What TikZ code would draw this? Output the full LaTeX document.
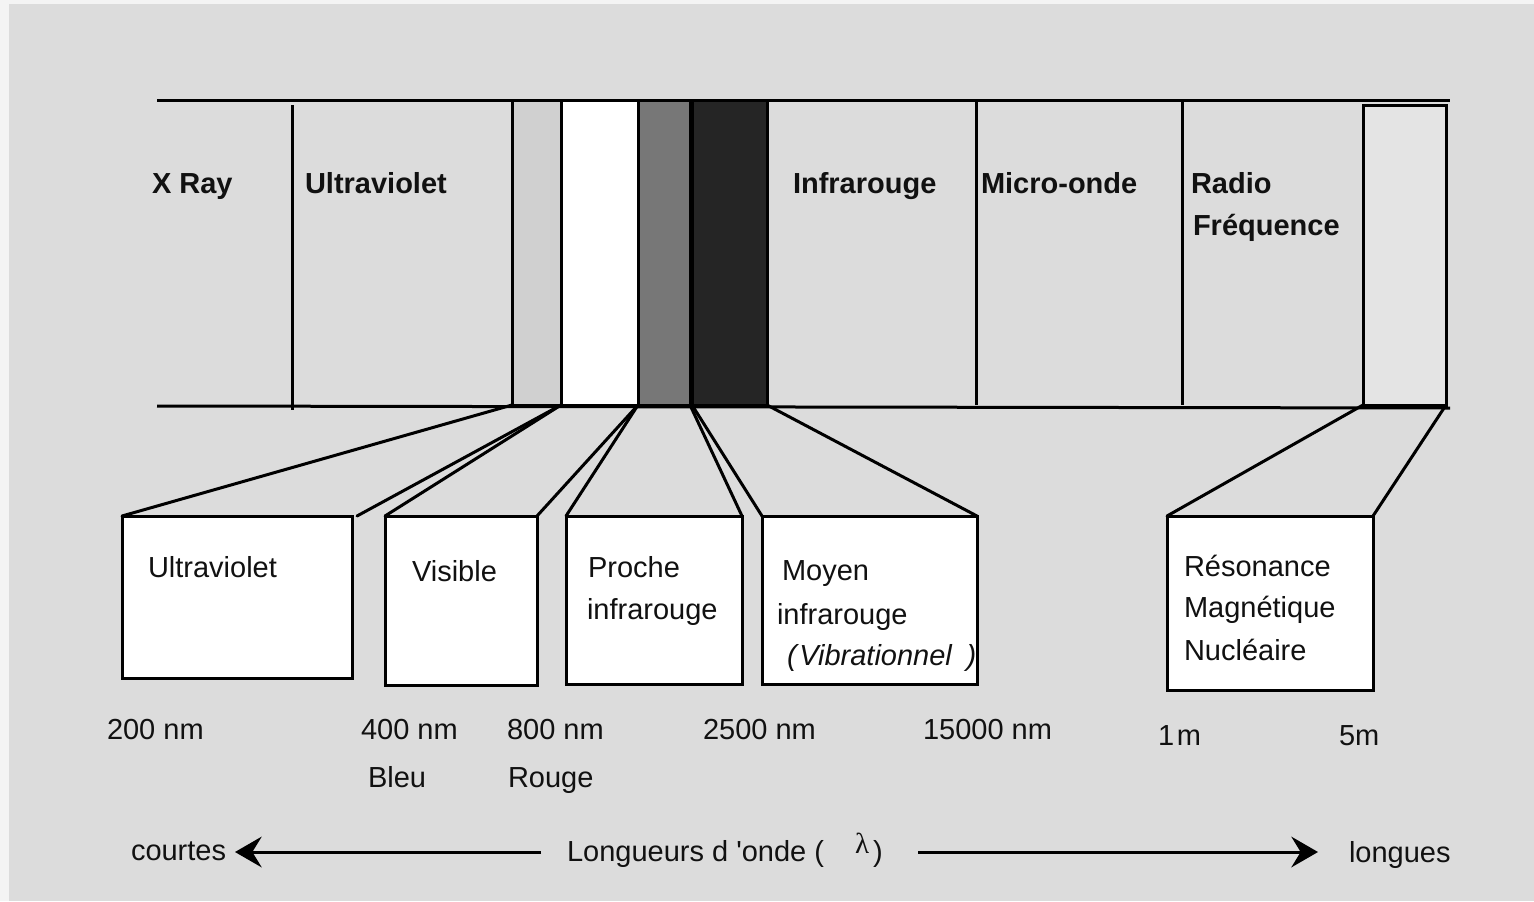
\documentclass[tikz,border=0pt]{standalone}
\usepackage{fontspec}
\setmainfont{Liberation Sans}
\newfontfamily\lamfont{Liberation Serif}
\newfontfamily\apfont[Ligatures=ResetAll]{Liberation Sans}
\usetikzlibrary{arrows.meta,fit}
\definecolor{outerbg}{HTML}{F4F4F4}
\definecolor{innerbg}{HTML}{DCDCDC}
\definecolor{barlight}{HTML}{D0D0D0}
\definecolor{barmid}{HTML}{777777}
\definecolor{bardark}{HTML}{252525}
\definecolor{barright}{HTML}{E4E4E4}
\definecolor{ink}{HTML}{111111}
\tikzset{
  lw/.style={line width=2.25pt},
  bar/.style={lw, draw=black, inner sep=0pt, outer sep=0pt},
  lowbox/.style={lw, draw=black, fill=white, inner sep=0pt, outer sep=0pt},
  conn/.style={lw, draw=black, line cap=round},
  txt/.style={inner sep=0pt, outer sep=0pt, anchor=base west, text=ink,
    font=\fontsize{21.75}{26}\selectfont},
  btxt/.style={txt, font=\fontsize{21.75}{26}\selectfont\bfseries},
  arr/.style={lw, draw=black, -{Stealth[length=20pt, width=23pt, inset=7pt]}}
}
\begin{document}
\begin{tikzpicture}[x=0.75pt, y=-0.75pt]
\useasboundingbox (0,0) rectangle (1534,901);
\fill[outerbg] (0,0) rectangle (1534,901);
\fill[innerbg] (9,4) rectangle (1534,901);

% band bars
\node[bar, fill=barlight, fit={(512,100) (561,405)}] (lb) {};
\node[bar, fill=white, fit={(561,100) (638,405)}] (wb) {};
\node[bar, fill=barmid, fit={(638,100) (690,405)}] (gb) {};
\node[bar, fill=bardark, fit={(692,100) (767,405)}] (db) {};
\node[bar, fill=barright, fit={(1363,105) (1446,405)}] (rb) {};

% band frame
\draw[lw] (157,100) -- (1450,100);
\draw[lw] (157,406) -- (1450,408);
\draw[lw] (292,105) -- (292,410);
\draw[lw] (976,100) -- (976,405);
\draw[lw] (1182,100) -- (1182,405);

% band labels
\node[btxt] (lxr) at (152,193) {X Ray};
\node[btxt] (luv) at (305,193) {Ultraviolet};
\node[btxt] (lir) at (793,193) {Infrarouge};
\node[btxt] (lmo) at (981,193) {Micro-onde};
\node[btxt] (lra) at (1191,193) {Radio};
\node[btxt] (lfr) at (1193,235) {Fréquence};

% lower boxes
\node[lowbox, fit={(122,516) (352,678)}] (b1) {};
\node[lowbox, fit={(385,516) (537,685)}] (b2) {};
\node[lowbox, fit={(566,516) (742,684)}] (b3) {};
\node[lowbox, fit={(762,516) (977,684)}] (b4) {};
\node[lowbox, fit={(1167,516) (1373,690)}] (b5) {};

% connectors
\coordinate (f1) at (357,516);
\draw[conn] (lb.south west) -- (b1.north west);
\draw[conn] (wb.south west) -- (f1);
\draw[conn] (wb.south west) -- (b2.north west);
\draw[conn] (wb.south east) -- (b2.north east);
\draw[conn] (wb.south east) -- (b3.north west);
\draw[conn] (gb.south east) -- (b3.north east);
\draw[conn] (db.south west) -- (b4.north west);
\draw[conn] (db.south east) -- (b4.north east);
\draw[conn] (rb.south west) -- (b5.north west);
\draw[conn] (rb.south east) -- (b5.north east);

% box texts
\node[txt] (t1) at (148,577) {Ultraviolet};
\node[txt] (t2) at (412,581) {Visible};
\node[txt] (t3a) at (588,577) {Proche};
\node[txt] (t3b) at (587,619) {infrarouge};
\node[txt] (t4a) at (782,580) {Moyen};
\node[txt] (t4b) at (777,624) {infrarouge};
\node[txt] (t4c) at (787,665) {\itshape(\kern2pt Vibrationnel\kern11pt)};
\node[txt] (t5a) at (1184,576) {Résonance};
\node[txt] (t5b) at (1184,617) {Magnétique};
\node[txt] (t5c) at (1184,660) {Nucléaire};

% wavelength labels
\node[txt] (w1) at (107,739) {200 nm};
\node[txt] (w2) at (361,739) {400 nm};
\node[txt] (w2b) at (368,787) {Bleu};
\node[txt] (w3) at (507,739) {800 nm};
\node[txt] (w3b) at (508,787) {Rouge};
\node[txt] (w4) at (703,739) {2500 nm};
\node[txt] (w5) at (923,739) {15000 nm};
\node[txt] (w6) at (1158,745) {1\kern2pt m};
\node[txt] (w7) at (1339,745) {5m};

% axis
\node[txt] (court) at (131,860) {courtes};
\node[txt] (lon) at (567,861) {\apfont Longueurs d 'onde (};
\node[txt] (lam) at (855,853) {\lamfont λ};
\node[txt] (lpar) at (873,861) {)};
\node[txt] (long) at (1349,862) {longues};
\coordinate (aLs) at (541,852);
\coordinate (aLe) at (235,852);
\coordinate (aRs) at (918,852);
\coordinate (aRe) at (1318,852);
\draw[arr] (aLs) -- (aLe);
\draw[arr] (aRs) -- (aRe);
\end{tikzpicture}
\end{document}
